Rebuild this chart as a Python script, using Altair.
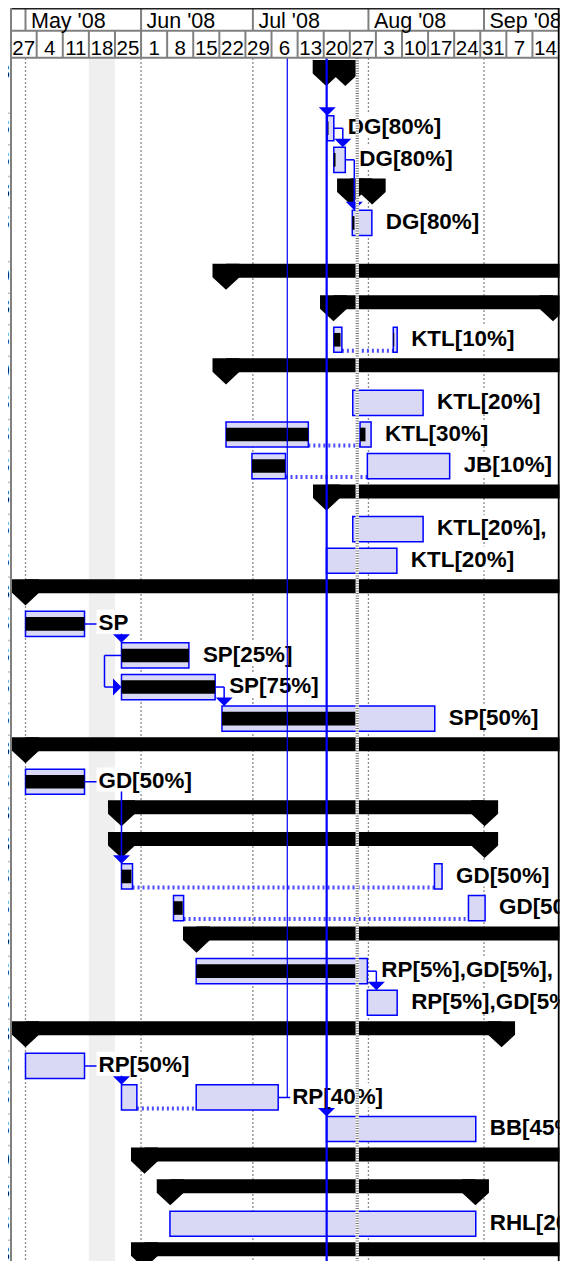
import altair as alt
import pandas as pd

# ---------------- data ----------------
ROW_KIND = ["S", "T", "T", "S", "T", "S", "S", "T", "S", "T", "T", "T", "S", "T", "T", "S",
            "T", "T", "T", "T", "S", "T", "S", "S", "T", "T", "S", "T", "T", "S", "T", "T",
            "T", "S", "S", "T", "S"]

SUM_ROW = [1, 4, 6, 7, 9, 13, 16, 21, 23, 24, 27, 30, 34, 35, 37]
SUM_START = ["2008-07-20 16:00", "2008-07-27 05:00", "2008-06-23 19:00", "2008-07-22 15:00",
             "2008-06-23 19:00", "2008-07-20 18:00", "2008-05-01 00:00", "2008-05-01 00:00",
             "2008-05-26 18:00", "2008-05-26 18:00", "2008-06-15 21:00", "2008-05-01 00:00",
             "2008-06-01 22:00", "2008-06-08 20:00", "2008-06-01 22:00"]
SUM_FINISH = ["2008-07-25 19:00", "2008-08-02 00:00", "2009-01-30 17:00", "2008-09-19 12:00",
              "2009-02-27 17:00", "2008-10-10 17:00", "2008-10-31 17:00", "2008-11-14 17:00",
              "2008-09-01 04:00", "2008-09-01 04:00", "2008-10-24 17:00", "2008-09-05 17:00",
              "2009-03-13 17:00", "2008-08-29 17:00", "2008-12-19 17:00"]

SEG_ROW = [2, 3, 5, 8, 8, 10, 11, 11, 12, 12, 14, 15, 17, 18, 19, 20, 22, 25, 25, 26, 26,
           28, 29, 31, 32, 32, 33, 36]
SEG_START = ["2008-07-20 23:00", "2008-07-22 17:00", "2008-07-27 16:00", "2008-07-22 17:00",
             "2008-08-07 16:00", "2008-07-27 19:00", "2008-06-23 19:00", "2008-07-29 18:00",
             "2008-06-30 18:00", "2008-07-31 17:00", "2008-07-27 19:00", "2008-07-20 18:00",
             "2008-05-01 00:00", "2008-05-26 18:00", "2008-05-26 18:00", "2008-06-22 17:00",
             "2008-05-01 00:00", "2008-05-26 18:00", "2008-08-18 17:00", "2008-06-09 17:00",
             "2008-08-27 20:00", "2008-06-15 19:00", "2008-07-31 17:00", "2008-05-01 00:00",
             "2008-05-26 18:00", "2008-06-15 19:00", "2008-07-20 18:00", "2008-06-08 18:00"]
SEG_FINISH = ["2008-07-22 17:00", "2008-07-25 19:00", "2008-08-01 22:00", "2008-07-24 21:00",
              "2008-08-08 17:00", "2008-08-15 16:00", "2008-07-15 21:00", "2008-08-01 17:00",
              "2008-07-09 18:00", "2008-08-22 19:00", "2008-08-15 16:00", "2008-08-08 15:00",
              "2008-05-16 20:00", "2008-06-13 20:00", "2008-06-20 21:00", "2008-08-18 19:00",
              "2008-05-16 20:00", "2008-05-29 17:00", "2008-08-20 18:00", "2008-06-12 10:00",
              "2008-09-01 07:00", "2008-07-31 17:00", "2008-08-08 17:00", "2008-05-16 20:00",
              "2008-05-30 21:00", "2008-07-07 19:00", "2008-08-29 19:00", "2008-08-29 19:00"]
SEG_DONE = ["2008-07-21 07:00", "2008-07-23 04:00", "2008-07-28 06:00", "2008-07-24 12:00",
            "2008-08-07 22:00", None, "2008-07-15 21:00", "2008-07-31 05:00",
            "2008-07-09 16:00", None, None, None,
            "2008-05-16 20:00", "2008-06-13 20:00", "2008-06-20 21:00", "2008-07-28 13:00",
            "2008-05-16 20:00", "2008-05-29 10:00", None, "2008-06-12 04:00",
            None, "2008-07-28 13:00", None, None,
            None, None, None, None]

LABEL_ROW = [2, 3, 5, 8, 10, 11, 12, 14, 15, 17, 18, 19, 20, 22, 25, 26, 28, 29, 31, 32, 33, 36]
LABEL_TEXT = ["DG[80%]", "DG[80%]", "DG[80%]", "KTL[10%]", "KTL[20%]", "KTL[30%]", "JB[10%]",
              "KTL[20%],", "KTL[20%]", "SP", "SP[25%]", "SP[75%]", "SP[50%]", "GD[50%]",
              "GD[50%]", "GD[50%]", "RP[5%],GD[5%],", "RP[5%],GD[5%]", "RP[50%]", "RP[40%]",
              "BB[45%]", "RHL[20%]"]

LINK_FROM = [2, 3, 17, 18, 19, 22, 28, 31, 32]
LINK_TO = [3, 5, 18, 19, 20, 25, 29, 32, 33]
LINK_TYPE = ["FS", "FS", "FS", "SS", "FS", "FS", "FS", "FS", "FS"]

MONTH_START = ["2008-05-01", "2008-06-01", "2008-07-01", "2008-08-01", "2008-09-01"]
MONTH_LABEL = ["May '08", "Jun '08", "Jul '08", "Aug '08", "Sep '08"]
WEEK_START = ["2008-04-27", "2008-05-04", "2008-05-11", "2008-05-18", "2008-05-25",
              "2008-06-01", "2008-06-08", "2008-06-15", "2008-06-22", "2008-06-29",
              "2008-07-06", "2008-07-13", "2008-07-20", "2008-07-27", "2008-08-03",
              "2008-08-10", "2008-08-17", "2008-08-24", "2008-08-31", "2008-09-07",
              "2008-09-14"]
WEEK_LABEL = ["27", "4", "11", "18", "25", "1", "8", "15", "22", "29", "6", "13", "20", "27",
              "3", "10", "17", "24", "31", "7", "14"]

NONWORK = ("2008-05-18", "2008-05-25")
CURRENT_DATE = "2008-07-29 00:00"
STATUS_THIN = "2008-07-10 05:30"
STATUS_THICK = "2008-07-20 19:00"

# ---------------- layout ----------------
START = pd.Timestamp("2008-04-27")
PX_PER_DAY = 3.7276
ORIGIN_PX = 10.59
PAGE_L, PAGE_R, PAGE_T, PAGE_B = 8, 563, 8, 1261
BODY_TOP = 58
H = 31.57
ROW_UNITS = [1.75, 1, 1, 1, 1.7] + [1] * 32
FONT = "Liberation Sans"
FS_LABEL = 22.4
FS_MONTH = 21.5
FS_WEEK = 20.5
BLUE = "#0000ff"
GRAY = "#808080"


def day(s):
    return (pd.Timestamp(s) - START) / pd.Timedelta(days=1)


def pxd(px):
    return px / PX_PER_DAY


def pagex(px):
    return (px - ORIGIN_PX) / PX_PER_DAY


def pu(px):
    return px / H


def pagey(py):
    return (py - BODY_TOP) / H


X0, X1 = pagex(PAGE_L), pagex(PAGE_R)
Y0, Y1 = pagey(PAGE_T), pagey(PAGE_B)
XS = alt.Scale(domain=[X0, X1], nice=False, zero=False)
YS = alt.Scale(domain=[Y0, Y1], nice=False, zero=False, reverse=True)


def ex(f):
    return alt.X(f"{f}:Q", scale=XS, axis=None)


def ey(f):
    return alt.Y(f"{f}:Q", scale=YS, axis=None)


tops = {}
acc = 0.0
for i, u in enumerate(ROW_UNITS, start=1):
    tops[i] = acc
    acc += u

seg = pd.DataFrame({"row": SEG_ROW,
                    "s": [day(v) for v in SEG_START],
                    "f": [day(v) for v in SEG_FINISH],
                    "d": [day(v) if v else float("nan") for v in SEG_DONE]})
seg["top"] = seg["row"].map(tops)
seg["y"] = seg["top"] + pu(2.4)
seg["y2"] = seg["top"] + pu(27.6)

prog = seg.dropna(subset=["d"]).copy()
prog["x2"] = prog[["d", "f"]].min(axis=1)
prog["y"] = prog["top"] + pu(8.2)
prog["y2"] = prog["top"] + pu(21.8)

split_rows = []
for r, g in seg.groupby("row"):
    g = g.sort_values("s")
    items = list(g.itertuples())
    for a, b in zip(items, items[1:]):
        split_rows.append({"x": a.f, "x2": b.s, "y": a.top + pu(26)})
splits = pd.DataFrame(split_rows)

summ = pd.DataFrame({"row": SUM_ROW, "s": [day(v) for v in SUM_START],
                     "f": [day(v) for v in SUM_FINISH]})
summ["top"] = summ["row"].map(tops)
summ["y"] = summ["top"] + pu(2)
summ["y2"] = summ["top"] + pu(16)
pent = pd.concat([summ[["s", "top"]].rename(columns={"s": "x"}),
                  summ[["f", "top"]].rename(columns={"f": "x"})])
pent["y"] = pent["top"] + pu(15.5)

first_start = seg.groupby("row")["s"].min()
last_finish = seg.groupby("row")["f"].max()

lines, down, right = [], [], []
for p, s, t in zip(LINK_FROM, LINK_TO, LINK_TYPE):
    ycp = tops[p] + pu(15)
    ycs = tops[s] + pu(15)
    if t == "FS":
        xf = last_finish[p]
        xt = max(first_start[s], xf + pxd(9))
        ybar = tops[s] + pu(2.4)
        lines.append({"x": xf, "x2": xt, "y": ycp, "y2": ycp})
        lines.append({"x": xt, "x2": xt, "y": ycp, "y2": ybar - pu(7)})
        down.append({"x": xt, "y": ybar - pu(4.25)})
    else:
        xs = first_start[p]
        xl = xs - pxd(17)
        lines.append({"x": xs, "x2": xl, "y": ycp, "y2": ycp})
        lines.append({"x": xl, "x2": xl, "y": ycp, "y2": ycs})
        lines.append({"x": xl, "x2": first_start[s] - pxd(7), "y": ycs, "y2": ycs})
        right.append({"x": first_start[s] - pxd(4.25), "y": ycs})
# arrow coming from above into row 2
down.append({"x": first_start[2], "y": tops[2] + pu(2.4) - pu(4.25)})
lines = pd.DataFrame(lines)
down = pd.DataFrame(down)
right = pd.DataFrame(right)

AW = {"A": 722, "B": 722, "D": 722, "G": 778, "H": 722, "J": 556, "K": 722, "L": 611,
      "P": 667, "R": 722, "S": 667, "T": 611, "[": 333, "]": 333, "%": 889, ",": 278}


def tw(t):
    return sum(AW.get(c, 556) for c in t) * FS_LABEL / 1000


lab = pd.DataFrame({"row": LABEL_ROW, "text": LABEL_TEXT})
lab["x"] = lab["row"].map(last_finish)
lab["top"] = lab["row"].map(tops)
lab["y"] = lab["top"] + pu(21.2)
lab["bx"] = lab["x"] + pxd(12)
lab["bx2"] = lab["x"] + lab["text"].map(lambda t: pxd(14 + tw(t) + 1.5))
lab["by"] = lab["top"] + pu(0.8)
lab["by2"] = lab["top"] + pu(24.8)

# finish column of the table (only its right edge shows)
fin = {}
for r, f in zip(SUM_ROW, SUM_FINISH):
    fin[r] = pd.Timestamp(f)
for r, f in zip(SEG_ROW, SEG_FINISH):
    fin[r] = max(fin.get(r, pd.Timestamp(f)), pd.Timestamp(f))
leftcol = pd.DataFrame({"row": list(range(1, 38))})
leftcol["txt"] = leftcol["row"].map(lambda r: f"{fin[r].month}/{fin[r].day}/{fin[r].year % 100:02d}")
leftcol["bold"] = leftcol["row"].map(lambda r: ROW_KIND[r - 1] == "S")
leftcol["top"] = leftcol["row"].map(tops)
leftcol["y"] = leftcol["top"] + pu(21.2)
leftcol["x"] = pagex(9.8)

# ---------------- layers ----------------
layers = []

band = pd.DataFrame({"x": [day(NONWORK[0])], "x2": [day(NONWORK[1])], "y": [0.0], "y2": [Y1]})
layers.append(alt.Chart(band).mark_rect(color="#efefef").encode(
    x=ex("x"), x2="x2", y=ey("y"), y2="y2"))

grid = pd.DataFrame({"x": [day(m) for m in MONTH_START], "y": 0.0, "y2": Y1})
layers.append(alt.Chart(grid).mark_rule(color="#8c8c8c", strokeWidth=1.3, strokeDash=[2, 2]).encode(
    x=ex("x"), y=ey("y"), y2="y2"))

layers.append(alt.Chart(splits).mark_rule(color="#4d4dff", strokeWidth=4, strokeDash=[2, 3]).encode(
    x=ex("x"), x2="x2", y=ey("y")))

layers.append(alt.Chart(seg).mark_rect(fill="#d9d9f6", stroke=BLUE, strokeWidth=1.5).encode(
    x=ex("s"), x2="f", y=ey("y"), y2="y2"))

layers.append(alt.Chart(prog).mark_rect(color="black").encode(
    x=ex("s"), x2="x2", y=ey("y"), y2="y2"))

layers.append(alt.Chart(summ).mark_rect(color="black").encode(
    x=ex("s"), x2="f", y=ey("y"), y2="y2"))

PENT = "M-1,-1L1,-1L1,0L0,0.93L-1,0Z"
layers.append(alt.Chart(pent).mark_point(shape=PENT, size=729, filled=True, color="black",
                                         opacity=1, strokeWidth=0).encode(x=ex("x"), y=ey("y")))

layers.append(alt.Chart(lines).mark_rule(color=BLUE, strokeWidth=1.5).encode(
    x=ex("x"), x2="x2", y=ey("y"), y2="y2"))
layers.append(alt.Chart(down).mark_point(shape="M-1,-0.5L1,-0.5L0,0.5Z", size=289, filled=True,
                                         color=BLUE, opacity=1, strokeWidth=0).encode(
    x=ex("x"), y=ey("y")))
layers.append(alt.Chart(right).mark_point(shape="M-0.5,-1L0.5,0L-0.5,1Z", size=289, filled=True,
                                          color=BLUE, opacity=1, strokeWidth=0).encode(
    x=ex("x"), y=ey("y")))

layers.append(alt.Chart(lab).mark_rect(color="white").encode(
    x=ex("bx"), x2="bx2", y=ey("by"), y2="by2"))
layers.append(alt.Chart(lab).mark_text(align="left", baseline="alphabetic", dx=14, font=FONT,
                                       fontSize=FS_LABEL, fontWeight="bold", color="black").encode(
    x=ex("x"), y=ey("y"), text="text:N"))

cur = pd.DataFrame({"x": [day(CURRENT_DATE)], "y": [0.0], "y2": [Y1]})
layers.append(alt.Chart(cur).mark_rule(color="white", strokeWidth=3.3).encode(
    x=ex("x"), y=ey("y"), y2="y2"))
layers.append(alt.Chart(cur).mark_rule(color="#7a7a7a", strokeWidth=3.3, strokeDash=[1, 1.5]).encode(
    x=ex("x"), y=ey("y"), y2="y2"))

st1 = pd.DataFrame({"x": [day(STATUS_THIN)], "y": [0.0], "y2": [tops[32] + pu(15)]})
layers.append(alt.Chart(st1).mark_rule(color=BLUE, strokeWidth=1.2).encode(
    x=ex("x"), y=ey("y"), y2="y2"))
st2 = pd.DataFrame({"x": [day(STATUS_THICK)], "y": [0.0], "y2": [Y1]})
layers.append(alt.Chart(st2).mark_rule(color=BLUE, strokeWidth=2.2).encode(
    x=ex("x"), y=ey("y"), y2="y2"))

# header
hl_gray = []
hl_gray.append({"x": pagex(10), "x2": pagex(559), "y": pagey(30.8), "y2": pagey(30.8)})
hl_gray.append({"x": pagex(10), "x2": pagex(559), "y": pagey(57.8), "y2": pagey(57.8)})
for m in MONTH_START:
    hl_gray.append({"x": day(m), "x2": day(m), "y": pagey(8.8), "y2": pagey(30.8)})
for w in WEEK_START[1:]:
    hl_gray.append({"x": day(w), "x2": day(w), "y": pagey(30.8), "y2": pagey(57.8)})
hl_gray = pd.DataFrame(hl_gray)
layers.append(alt.Chart(hl_gray).mark_rule(color=GRAY, strokeWidth=2).encode(
    x=ex("x"), x2="x2", y=ey("y"), y2="y2"))

toph = pd.DataFrame({"x": [pagex(10)], "x2": [pagex(559)], "y": [pagey(8.8)]})
layers.append(alt.Chart(toph).mark_rule(color="#202020", strokeWidth=1.6).encode(
    x=ex("x"), x2="x2", y=ey("y")))

mon = pd.DataFrame({"x": [day(m) for m in MONTH_START], "text": MONTH_LABEL, "y": pagey(27.6)})
layers.append(alt.Chart(mon).mark_text(align="left", baseline="alphabetic", dx=5.5, font=FONT,
                                       fontSize=FS_MONTH, color="black").encode(
    x=ex("x"), y=ey("y"), text="text:N"))
wk = pd.DataFrame({"x": [day(w) + 3.5 for w in WEEK_START], "text": WEEK_LABEL, "y": pagey(54.6)})
layers.append(alt.Chart(wk).mark_text(align="center", baseline="alphabetic", font=FONT,
                                      fontSize=FS_WEEK, color="black").encode(
    x=ex("x"), y=ey("y"), text="text:N"))

# left table edge
lrows = pd.DataFrame({"xa": X0, "xb": pagex(10), "y": [tops[r] for r in range(2, 38)]})
layers.append(alt.Chart(lrows).mark_rule(color="#c0c0c0", strokeWidth=1.5).encode(
    x=ex("xa"), x2="xb", y=ey("y")))
for is_bold in (True, False):
    part = leftcol[leftcol["bold"] == is_bold]
    layers.append(alt.Chart(part).mark_text(
        align="right", baseline="alphabetic", font=FONT, fontSize=FS_LABEL, color="black",
        fontWeight="bold" if is_bold else "normal").encode(
        x=ex("x"), y=ey("y"), text="txt:N"))
lb = pd.DataFrame({"x": [pagex(11)], "y": [Y0], "y2": [Y1]})
layers.append(alt.Chart(lb).mark_rule(color=GRAY, strokeWidth=2).encode(
    x=ex("x"), y=ey("y"), y2="y2"))

# right edge
cover = pd.DataFrame({"x": [pagex(559.5)], "x2": [X1], "y": [Y0], "y2": [Y1]})
layers.append(alt.Chart(cover).mark_rect(color="white").encode(
    x=ex("x"), x2="x2", y=ey("y"), y2="y2"))
rb = pd.DataFrame({"x": [pagex(558.7)], "y": [Y0], "y2": [Y1]})
layers.append(alt.Chart(rb).mark_rule(color="black", strokeWidth=1.8).encode(
    x=ex("x"), y=ey("y"), y2="y2"))

chart = alt.layer(*layers).properties(
    width=PAGE_R - PAGE_L, height=PAGE_B - PAGE_T,
    autosize=alt.AutoSizeParams(type="none"), padding=0, background="white",
).configure_view(strokeWidth=0)

chart.save("out.html", embed_options={"renderer": "svg", "actions": False})
